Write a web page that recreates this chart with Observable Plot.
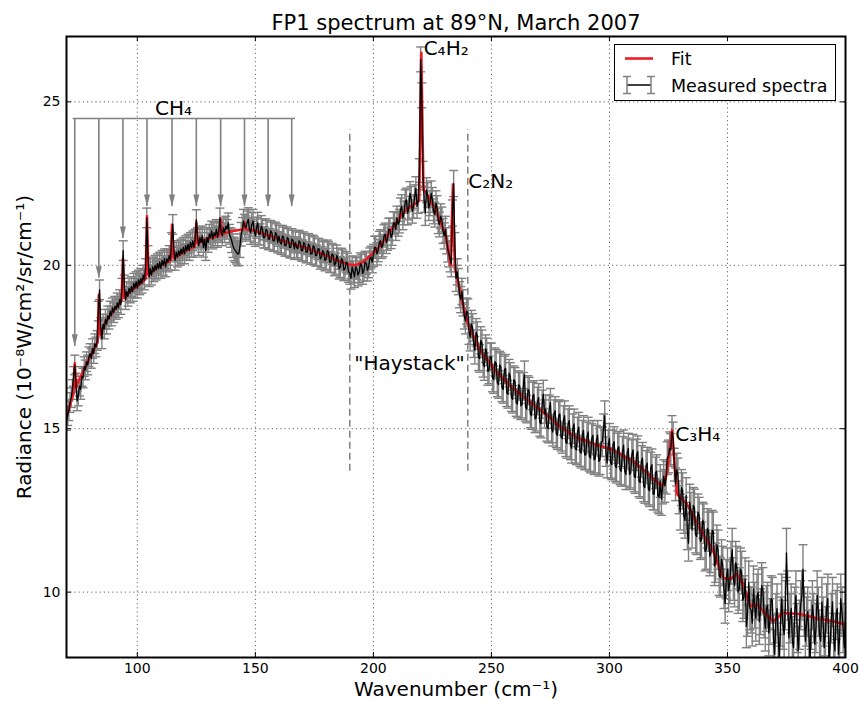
<!DOCTYPE html>
<html>
<head>
<meta charset="utf-8">
<script src="https://cdn.jsdelivr.net/npm/d3@7"></script>
<script src="https://cdn.jsdelivr.net/npm/@observablehq/plot@0.6"></script>
<style>
  html, body { margin: 0; padding: 0; background: white; }
  svg { display: block; }
</style>
</head>
<body>
<div id="chart"></div>
<script>
// ---------------- DATA ----------------
const xTicks = [100, 150, 200, 250, 300, 350, 400];
const yTicks = [10, 15, 20, 25];

// spectral sampling grid (0.5 cm^-1 steps, 70..400)
const wavenumber = d3.range(70, 400.25, 0.5);

// measured radiance (10^-8 W/cm^2/sr/cm^-1); each row covers 10 cm^-1 (x.0, x.5, ...)
const radiance = [
  15.25, 15.4, 15.55, 15.8, 15.95, 16.2, 16.6, 16.95, 16.4, 15.85, 16.0, 16.3, 16.2, 16.6, 16.55, 16.9, 16.8, 17.05, 16.95, 17.2,
  17.3, 17.15, 17.45, 17.3, 17.6, 17.5, 17.7, 18.6, 19.25, 18.1, 17.75, 18.2, 18.05, 18.35, 18.2, 18.45, 18.35, 18.6, 18.45, 18.7,
  18.55, 18.75, 18.65, 18.85, 18.7, 18.95, 18.8, 19.3, 20.45, 19.4, 18.95, 19.2, 19.05, 19.3, 19.15, 19.35, 19.2, 19.45, 19.3, 19.5,
  19.3, 19.55, 19.4, 19.6, 19.45, 19.7, 19.55, 19.9, 21.45, 20.3, 19.65, 19.9, 19.7, 19.95, 19.8, 20.0, 19.85, 20.05, 19.9, 20.1,
  19.9, 20.15, 20.0, 20.2, 19.95, 20.2, 20.1, 20.3, 20.15, 20.7, 21.25, 20.45, 20.15, 20.4, 20.25, 20.45, 20.3, 20.5, 20.35, 20.55,
  20.35, 20.6, 20.45, 20.65, 20.45, 20.7, 20.55, 20.75, 20.55, 20.8, 21.4, 20.85, 20.6, 20.85, 20.7, 20.9, 20.55, 20.8, 20.45, 20.85,
  20.7, 20.95, 20.85, 21.05, 20.8, 21.0, 20.9, 21.1, 20.85, 21.05, 21.45, 21.0, 20.9, 21.15, 21.0, 21.2, 21.1, 21.3, 20.95, 20.85,
  20.75, 20.6, 20.5, 20.45, 20.4, 20.35, 20.35, 20.6, 20.95, 21.1, 21.35, 21.2, 21.15, 21.3, 21.4, 21.1, 21.0, 21.25, 21.35, 21.05,
  20.9, 21.15, 21.3, 20.95, 20.95, 21.2, 21.1, 20.85, 20.85, 21.1, 21.05, 20.8, 20.8, 21.05, 21.0, 20.75, 20.75, 21.0, 20.95, 20.7,
  20.9, 20.7, 20.65, 20.9, 20.85, 20.6, 20.6, 20.85, 20.8, 20.55, 20.55, 20.8, 20.75, 20.5, 20.7, 20.55, 20.5, 20.75, 20.7, 20.45,
  20.45, 20.7, 20.65, 20.4, 20.4, 20.65, 20.6, 20.35, 20.35, 20.6, 20.55, 20.3, 20.3, 20.5, 20.5, 20.2, 20.25, 20.45, 20.4, 20.15,
  20.2, 20.45, 20.4, 20.1, 20.1, 20.35, 20.3, 20.0, 20.05, 20.3, 20.2, 19.9, 19.95, 20.2, 20.15, 19.85, 19.9, 20.1, 20.05, 19.8,
  19.75, 19.6, 19.95, 19.8, 19.65, 19.95, 19.9, 19.7, 19.8, 20.05, 20.0, 19.75, 19.85, 20.1, 20.05, 19.85, 19.95, 20.2, 20.25, 20.1,
  20.3, 20.55, 20.55, 20.35, 20.45, 20.7, 20.75, 20.55, 20.6, 20.9, 20.95, 20.7, 20.8, 21.1, 21.1, 20.85, 20.95, 21.3, 21.3, 21.1,
  21.45, 21.25, 21.35, 21.7, 21.8, 21.45, 21.6, 21.95, 22.0, 21.6, 21.75, 22.2, 22.05, 21.65, 21.8, 22.1, 22.35, 21.8, 21.95, 22.9,
  26.3, 25.2, 22.8, 22.0, 21.6, 22.3, 22.15, 21.75, 21.9, 22.2, 22.0, 21.65, 21.55, 21.9, 21.75, 21.35, 21.25, 21.5, 21.4, 21.05,
  20.9, 21.1, 20.75, 20.5, 20.35, 20.2, 20.05, 21.6, 22.5, 20.6, 19.6, 19.8, 19.5, 19.1, 18.95, 19.2, 18.85, 18.45, 18.3, 18.6,
  18.55, 18.0, 17.8, 18.2, 18.1, 17.6, 17.4, 17.95, 17.85, 17.2, 17.15, 17.7, 17.6, 17.0, 16.9, 17.45, 17.35, 16.75, 16.8, 17.2,
  17.2, 16.55, 16.5, 17.05, 17.0, 16.4, 16.35, 16.95, 16.9, 16.25, 16.2, 16.8, 16.85, 16.1, 16.05, 16.7, 16.6, 15.95, 15.9, 16.5,
  16.45, 15.8, 15.75, 16.35, 16.3, 15.7, 15.75, 16.3, 16.65, 15.65, 15.6, 16.2, 16.15, 15.45, 15.4, 16.0, 16.05, 15.3, 15.35, 15.85,
  15.95, 15.2, 15.15, 15.75, 16.05, 15.45, 15.6, 15.05, 15.0, 15.6, 15.8, 15.0, 14.9, 15.45, 15.55, 14.85, 14.8, 15.4, 15.45, 14.75,
  14.7, 15.25, 15.4, 14.6, 14.55, 15.15, 15.25, 14.5, 14.4, 15.0, 15.15, 14.4, 14.35, 14.9, 15.05, 14.3, 14.25, 14.8, 14.95, 14.2,
  14.2, 14.75, 14.9, 14.15, 14.1, 14.7, 14.8, 14.05, 14.1, 14.65, 14.8, 14.0, 14.05, 14.6, 14.6, 15.0, 15.4, 14.3, 13.95, 14.5,
  14.7, 13.95, 13.9, 14.5, 14.6, 13.85, 13.8, 14.4, 14.45, 13.75, 13.7, 14.3, 14.5, 13.7, 13.6, 14.25, 14.4, 13.6, 13.65, 14.2,
  14.35, 13.55, 13.5, 14.2, 14.3, 13.4, 13.35, 14.0, 14.1, 13.25, 13.2, 13.85, 13.95, 13.15, 13.1, 13.8, 13.9, 13.0, 13.0, 13.65,
  13.7, 12.95, 12.9, 13.4, 12.85, 13.2, 13.55, 13.25, 13.5, 14.1, 14.15, 14.4, 14.35, 14.9, 14.7, 13.9, 13.3, 13.75, 13.6, 12.9,
  12.45, 13.2, 13.1, 12.35, 12.2, 12.95, 11.85, 11.5, 12.75, 12.5, 11.9, 12.65, 12.6, 11.75, 11.7, 12.45, 12.35, 11.55, 11.6, 12.2,
  12.1, 11.25, 11.3, 11.95, 11.85, 11.1, 11.2, 11.9, 11.85, 10.8, 10.9, 11.45, 11.3, 10.5, 10.45, 11.0, 10.8, 10.1, 9.65, 10.4,
  10.7, 10.05, 10.3, 10.9, 11.3, 10.4, 10.2, 10.9, 10.75, 10.0, 10.1, 10.7, 10.6, 9.75, 9.85, 10.4, 8.95, 9.3, 10.3, 9.5,
  9.45, 9.05, 10.1, 9.6, 9.2, 9.85, 10.0, 9.1, 9.4, 10.2, 10.05, 9.3, 8.9, 9.5, 9.6, 8.75, 9.1, 9.8, 9.75, 8.6,
  8.1, 9.2, 9.5, 8.6, 7.95, 9.1, 9.8, 9.0, 8.7, 9.6, 11.2, 9.9, 8.6, 9.2, 9.5, 8.5, 8.3, 9.4, 9.9, 8.9,
  8.2, 9.0, 9.6, 9.9, 10.7, 9.4, 8.5, 9.1, 9.4, 8.7, 7.9, 9.0, 9.6, 9.2, 8.4, 8.9, 9.9, 9.4, 8.7, 8.5,
  9.7, 9.1, 8.3, 8.8, 9.5, 9.8, 7.9, 8.4, 9.2, 9.7, 8.6, 8.2, 9.3, 9.5, 8.1, 8.6, 9.8, 9.4, 8.9, 8.3,
  9.4
];

// 1-sigma uncertainty per 10 cm^-1 bin (bins start at 70, 80, ..., 400)
const radianceErr = [
  0.3, 0.3, 0.3, 0.3, 0.3, 0.3, 0.3, 0.36, 0.32, 0.32,
  0.32, 0.32, 0.33, 0.34, 0.36, 0.38, 0.4, 0.42, 0.42, 0.42,
  0.43, 0.45, 0.45, 0.46, 0.48, 0.5, 0.55, 0.6, 0.65, 0.7,
  0.75, 0.75, 0.75, 0.75
];

// model fit
const fitX = [70, 71, 72, 72.9, 73.5, 74.1, 75, 77, 80, 82.5,
  83.2, 83.7, 84.3, 86, 90, 93.3, 93.9, 94.5, 97, 101,
  103.5, 104.1, 104.7, 107, 110, 114.1, 114.7, 115.3, 118, 122,
  124.4, 125, 125.6, 128, 130.5, 134.8, 135.4, 136, 140, 144.9,
  145.5, 146.1, 149, 153, 157, 161.5, 167, 174, 181, 185.4,
  190, 192.5, 196, 199, 202, 207, 212.4, 216, 218, 219.4,
  220.3, 221.2, 222, 226.3, 230.6, 232.7, 233.7, 234.5, 236, 239,
  241, 244.7, 252, 259, 266, 273, 280, 287, 294, 301,
  310, 316, 321.5, 323, 324.4, 326.5, 328.6, 332.8, 338.5, 344,
  346, 348.3, 351.3, 354, 356.7, 359.6, 362.4, 365, 369.4, 373.6,
  380.8, 387.8, 395, 400];
const fitY = [15.4, 15.62, 15.85, 16.05, 17.0, 16.25, 16.45, 16.75, 17.2, 17.55,
  17.65, 19.1, 17.88, 18.2, 18.62, 18.9, 20.2, 19.0, 19.2, 19.43,
  19.58, 21.5, 19.7, 19.85, 20.0, 20.14, 21.25, 20.22, 20.33, 20.5,
  20.58, 21.3, 20.66, 20.76, 20.83, 20.91, 21.4, 20.96, 21.04, 21.1,
  21.3, 21.1, 21.07, 20.98, 20.88, 20.75, 20.63, 20.47, 20.27, 20.12,
  20.02, 20.0, 20.12, 20.32, 20.52, 21.02, 21.6, 21.81, 21.9, 21.97,
  26.5, 22.3, 22.26, 21.7, 20.94, 20.0, 22.47, 19.9, 19.45, 18.42,
  18.05, 17.46, 16.75, 16.24, 15.84, 15.44, 15.01, 14.7, 14.52, 14.37,
  14.0, 13.65, 13.28, 13.3, 13.64, 14.95, 13.0, 12.7, 11.93, 11.25,
  10.85, 10.43, 10.4, 10.55, 10.24, 9.57, 9.63, 9.42, 9.11, 9.36,
  9.33, 9.2, 9.1, 9.0];

// CH4 line markers
const ch4Lines = [73.5, 83.7, 93.9, 104.1, 114.7, 125.0, 135.3, 145.4, 155.4, 165.4];
const ch4Tips  = [17.52, 19.6, 20.82, 21.8, 21.8, 21.8, 21.8, 21.8, 21.8, 21.8];
const ch4BarY = 24.49, ch4BarStart = 72.8, ch4BarEnd = 167.0;

// "Haystack" bounds
const haystackBounds = [190, 240];
const haystackTop = 24.15, haystackBottom = 13.7;

// annotations
const labelText = ["CH₄", "C₄H₂", "C₂N₂", "C₃H₄"];
const labelX = [107.5, 221.3, 240.2, 327.9];
const labelY = [24.6, 26.43, 22.36, 14.61];
const haystackLabel = { text: "\"Haystack\"", x: 215.3, y: 16.8 };

const titleText = "FP1 spectrum at 89°N, March 2007";
const xLabel = "Wavenumber (cm⁻¹)";
const yLabel = "Radiance (10⁻⁸W/cm²/sr/cm⁻¹)";
const legendItems = ["Fit", "Measured spectra"];

// ---------------- BUILD ----------------
const GRAY = "#808080", RED = "#ec1c24";
const meas = wavenumber.map((x, i) => {
  const e = radianceErr[Math.floor((x - 70) / 10)];
  return { x, y: radiance[i], lo: radiance[i] - e, hi: radiance[i] + e };
});
const fit = fitX.map((x, i) => ({ x, y: fitY[i] }));
const ch4 = ch4Lines.map((x, i) => ({ x, tip: ch4Tips[i] }));
const labels = labelText.map((t, i) => ({ t, x: labelX[i], y: labelY[i] }));

const capSymbol = { draw(ctx) { ctx.moveTo(-4.5, 0); ctx.lineTo(4.5, 0); } };
const headSymbol = { draw(ctx) { ctx.moveTo(0, 0); ctx.lineTo(-3, -12); ctx.lineTo(3, -12); ctx.closePath(); } };

const W = 859, H = 701, mT = 36, mR = 14, mB = 44, mL = 66;
const innerW = W - mL - mR, innerH = H - mT - mB, tick = 5;

const chart = Plot.plot({
  width: W, height: H,
  marginTop: mT, marginRight: mR, marginBottom: mB, marginLeft: mL,
  style: { fontFamily: "'DejaVu Sans', sans-serif", fontSize: "14px", background: "white", color: "black", overflow: "visible" },
  x: { domain: [70, 400] },
  y: { domain: [8, 27] },
  marks: [
    Plot.gridX(xTicks, { stroke: "#666", strokeOpacity: 1, strokeWidth: 1, strokeDasharray: "1.2,3" }),
    Plot.gridY(yTicks, { stroke: "#666", strokeOpacity: 1, strokeWidth: 1, strokeDasharray: "1.2,3" }),
    // haystack dashed bounds
    Plot.ruleX(haystackBounds, { y1: haystackBottom, y2: haystackTop, stroke: GRAY, strokeWidth: 1.5, strokeDasharray: "7,4" }),
    // CH4 bar and arrows
    Plot.ruleY([ch4BarY], { x1: ch4BarStart, x2: ch4BarEnd, stroke: GRAY, strokeWidth: 1.6 }),
    Plot.ruleX(ch4, { x: "x", y1: ch4BarY, y2: "tip", stroke: GRAY, strokeWidth: 1.6 }),
    Plot.dot(ch4, { x: "x", y: "tip", symbol: headSymbol, fill: GRAY, stroke: "none" }),
    // error bars
    Plot.ruleX(meas, { x: "x", y1: "lo", y2: "hi", stroke: GRAY, strokeWidth: 1.4, clip: true }),
    Plot.dot(meas, { x: "x", y: "hi", symbol: capSymbol, fill: "none", stroke: GRAY, strokeWidth: 1.4, clip: true }),
    Plot.dot(meas, { x: "x", y: "lo", symbol: capSymbol, fill: "none", stroke: GRAY, strokeWidth: 1.4, clip: true }),
    // fit and measured
    Plot.line(fit, { x: "x", y: "y", stroke: RED, strokeWidth: 2.6, clip: true }),
    Plot.line(meas, { x: "x", y: "y", stroke: "black", strokeWidth: 1.3, clip: true }),
    // annotations
    Plot.text(labels, { x: "x", y: "y", text: "t", textAnchor: "start", lineAnchor: "bottom", fontSize: 20 }),
    Plot.text([haystackLabel], { x: "x", y: "y", text: "text", textAnchor: "middle", lineAnchor: "bottom", fontSize: 20 }),
    // inward ticks on all sides
    Plot.ruleX(xTicks, { insetTop: innerH - tick, stroke: "black", strokeWidth: 1 }),
    Plot.ruleX(xTicks, { insetBottom: innerH - tick, stroke: "black", strokeWidth: 1 }),
    Plot.ruleY(yTicks, { insetRight: innerW - tick, stroke: "black", strokeWidth: 1 }),
    Plot.ruleY(yTicks, { insetLeft: innerW - tick, stroke: "black", strokeWidth: 1 }),
    Plot.frame({ stroke: "black", strokeWidth: 2 }),
    // axes labels
    Plot.axisX(xTicks, { tickSize: 0, tickPadding: 6, fontSize: 14, label: null }),
    Plot.axisY(yTicks, { tickSize: 0, tickPadding: 6, fontSize: 14, label: null }),
    Plot.text([titleText], { text: d => d, frameAnchor: "top", textAnchor: "middle", dy: -7, lineAnchor: "bottom", fontSize: 21 }),
    Plot.text([xLabel], { text: d => d, frameAnchor: "bottom", textAnchor: "middle", dy: 38, lineAnchor: "bottom", fontSize: 20 }),
    Plot.text([yLabel], { text: d => d, frameAnchor: "left", textAnchor: "middle", dx: -36, rotate: -90, lineAnchor: "bottom", fontSize: 20 })
  ]
});

// legend (inside the axes, upper right)
const svg = d3.select(chart);
const lg = svg.append("g").attr("font-family", "'DejaVu Sans', sans-serif").attr("font-size", 17.5).attr("text-anchor", "start");
lg.append("rect").attr("x", 614.5).attr("y", 44.5).attr("width", 221).attr("height", 56)
  .attr("fill", "white").attr("stroke", "black").attr("stroke-width", 1);
lg.append("line").attr("x1", 625).attr("x2", 653).attr("y1", 58.5).attr("y2", 58.5)
  .attr("stroke", RED).attr("stroke-width", 2.6);
lg.append("text").attr("x", 671).attr("y", 64.5).text(legendItems[0]);
lg.append("line").attr("x1", 627).attr("x2", 651).attr("y1", 85).attr("y2", 85)
  .attr("stroke", "black").attr("stroke-width", 1.5);
for (const cx of [627, 651]) {
  lg.append("line").attr("x1", cx).attr("x2", cx).attr("y1", 76.5).attr("y2", 93.5).attr("stroke", GRAY).attr("stroke-width", 1.5);
  for (const cy of [76.5, 93.5]) {
    lg.append("line").attr("x1", cx - 4).attr("x2", cx + 4).attr("y1", cy).attr("y2", cy).attr("stroke", GRAY).attr("stroke-width", 1.5);
  }
}
lg.append("text").attr("x", 671).attr("y", 91.5).text(legendItems[1]);

document.getElementById("chart").appendChild(chart);
</script>
</body>
</html>
